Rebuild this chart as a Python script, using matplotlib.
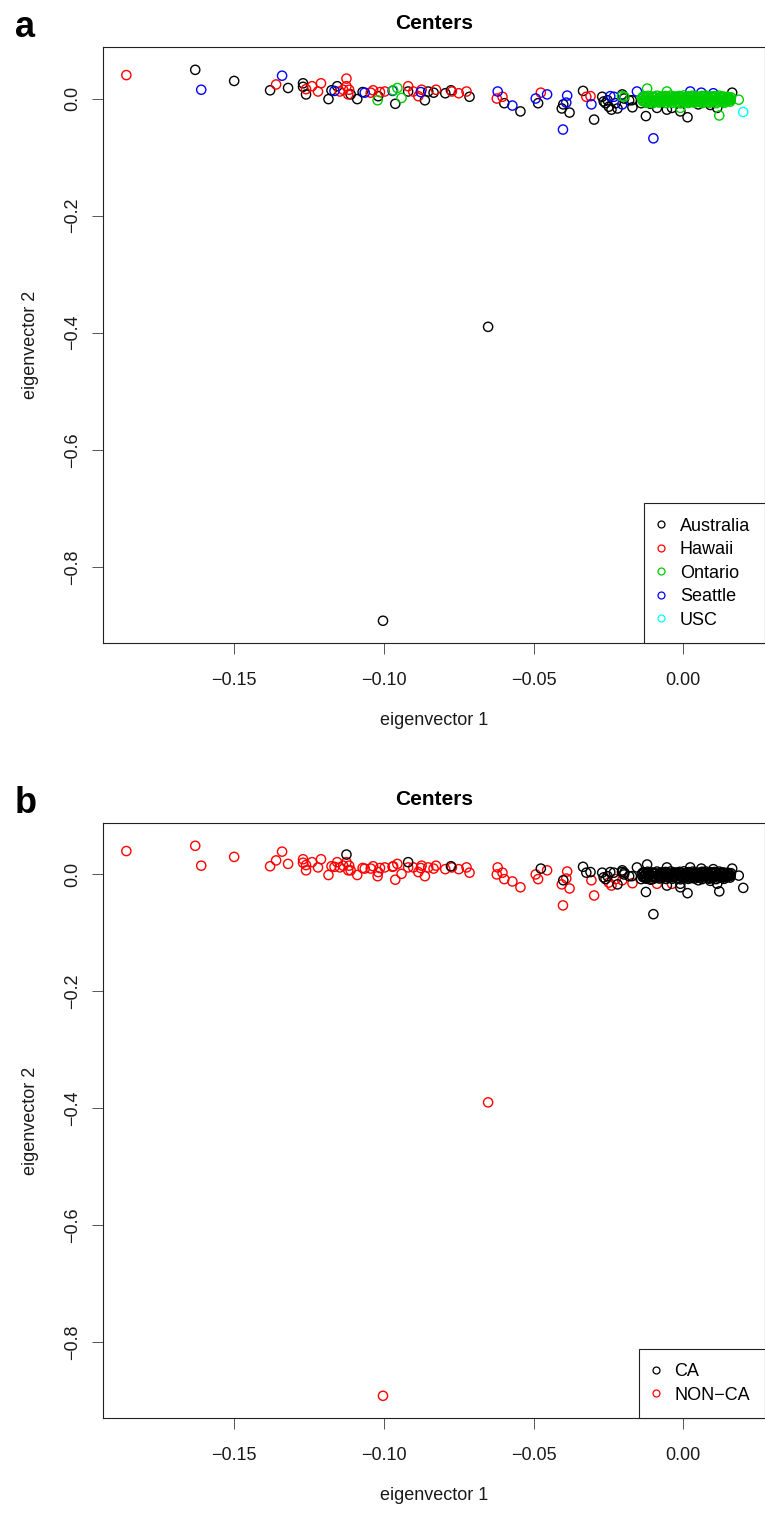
import matplotlib
matplotlib.use("Agg")
import matplotlib.pyplot as plt
from matplotlib.lines import Line2D
from matplotlib.ticker import FuncFormatter
import numpy as np

plt.rcParams['font.family'] = ['Liberation Sans', 'DejaVu Sans']

centers = ["Australia", "Hawaii", "Ontario", "Seattle", "USC"]
center_colors = {"Australia": "black", "Hawaii": "#FF0000", "Ontario": "#00CD00",
                 "Seattle": "#0000FF", "USC": "#00FFFF"}
ca_groups = ["CA", "NON-CA"]
ca_colors = {"CA": "black", "NON-CA": "#FF0000"}

# scattered samples (A/H/O/S/U = center, C/N = CA / NON-CA)
eig1 = [-0.186, -0.163, -0.161, -0.150, -0.134, -0.136, -0.138, -0.132, -0.127, -0.127,
        -0.126, -0.126, -0.124, -0.121, -0.122, -0.1185, -0.1175, -0.1165, -0.1156, -0.1125,
        -0.1125, -0.1116, -0.1119, -0.1136, -0.1147, -0.1111, -0.1089, -0.1071, -0.1064, -0.1036,
        -0.1013, -0.0997, -0.1044, -0.1021, -0.1019, -0.0969, -0.0955, -0.0941, -0.0971, -0.0962,
        -0.0919, -0.0902, -0.0885, -0.0874, -0.0919, -0.0863, -0.0852, -0.0877, -0.0826, -0.0773,
        -0.0750, -0.0724, -0.0834, -0.0795, -0.0776, -0.0714, -0.0620, -0.0623, -0.0604, -0.0598,
        -0.0571, -0.0544, -0.0493, -0.0455, -0.0476, -0.0485, -0.0388, -0.0391, -0.0401, -0.0406,
        -0.0380, -0.0402, -0.0335, -0.0324, -0.0310, -0.0307, -0.0298, -0.0232, -0.0204, -0.0271,
        -0.0266, -0.0260, -0.0253, -0.0249, -0.0240, -0.0226, -0.0220, -0.0204, -0.0198, -0.0181,
        -0.0170, -0.0172, -0.0141, -0.0125, -0.0197, -0.0205, -0.0121, -0.0244, -0.0155, -0.0100,
        0.0023, -0.0088, -0.0055, -0.0038, 0.0014, -0.0010, 0.0113, 0.0157, 0.0163, 0.0120,
        0.0185, 0.0200, -0.0010, -0.0055, -0.0652, -0.1003, -0.0110, 0.0050, 0.0090, 0.0060,
        0.0100, 0.0130]
eig2 = [0.040, 0.049, 0.015, 0.030, 0.039, 0.024, 0.014, 0.018, 0.026, 0.020,
        0.007, 0.016, 0.021, 0.026, 0.012, -0.001, 0.014, 0.013, 0.021, 0.034,
        0.021, 0.015, 0.007, 0.015, 0.012, 0.007, -0.001, 0.011, 0.010, 0.014,
        0.011, 0.012, 0.010, -0.003, 0.004, 0.014, 0.018, 0.001, 0.013, -0.009,
        0.021, 0.012, 0.004, 0.015, 0.012, -0.003, 0.012, 0.011, 0.015, 0.012,
        0.009, 0.012, 0.010, 0.009, 0.014, 0.003, 0.012, 0.000, 0.003, -0.008,
        -0.012, -0.022, 0.000, 0.007, 0.010, -0.008, 0.005, -0.007, -0.010, -0.017,
        -0.024, -0.053, 0.013, 0.003, 0.004, -0.010, -0.036, 0.003, -0.010, 0.003,
        -0.005, -0.008, -0.003, -0.014, -0.019, -0.008, -0.017, 0.007, 0.000, -0.003,
        -0.015, -0.003, -0.008, -0.030, 0.003, 0.004, 0.017, 0.004, 0.012, -0.068,
        0.012, -0.016, -0.019, -0.016, -0.032, -0.022, -0.016, -0.002, 0.010, -0.029,
        -0.002, -0.023, -0.016, 0.012, -0.390, -0.892, -0.009, -0.010, -0.011, 0.010,
        0.009, -0.004]
center_code = list("HASASHAAAA" "AHHHHAASAH" "HHHHHAAASH" "HHHOAOOOSA"
                   "HHHHAAASHH" "HHAAAASHHA" "SASSHASSAA" "ASAHHSASSA"
                   "AAAAAAAAAA" "AAAAOOOSSS" "SAAAAAAAAO" "OUOOAAAAAS"
                   "SU")
ca_code = list("NNNNNNNNNN" "NNNNNNNNNC" "NNNNNNNNNN" "NNNNNNNNNN"
               "CNNNNNNNNN" "NNNNCNNNNN" "NNNNCNNNCN" "NNCCCNNCNC"
               "CCCNNNCCCC" "NCCCCCCCCC" "CNCNCCCCCC" "CCCCNNCCCC"
               "CC")
code_names = {"A": "Australia", "H": "Hawaii", "O": "Ontario", "S": "Seattle", "U": "USC"}

# dense core of Ontario / CA samples around the origin (units of 1e-3)
core_x = [-13.2, -11.9, -10.1, -8.8, -7.0, -5.9, -4.2, -2.7, -1.3, 0.2, 1.8, 3.1, 4.6, 6.2, 7.5, 9.1, 10.4, 12.0, 13.3, 14.8, 15.9,
          -13.6, -12.3, -10.6, -9.3, -7.6, -6.6, -4.9, -3.2, -2.3, -0.9, 0.6, 2.1, 3.5, 5.0, 6.6, 8.0, 9.5, 10.9, 12.4, 13.8, 15.2,
          -13.9, -12.6, -11.0, -9.6, -8.1, -6.4, -5.0, -3.5, -2.0, -0.6, 0.9, 2.5, 3.9, 5.4, 6.9, 8.3, 9.8, 11.3, 12.7, 14.1, 15.4,
          -13.0, -11.5, -9.9, -8.5, -7.3, -5.6, -4.4, -2.9, -1.5, 0.0, 1.4, 2.9, 4.3, 5.8, 7.2, 8.7, 10.1, 11.6, 13.0, 14.5, 15.8,
          -13.3, -11.7, -10.4, -8.6, -7.4, -5.8, -4.5, -3.0, -1.2, 0.4, 1.9, 3.4, 4.8, 6.3, 7.8, 9.2, 10.7, 12.2, 13.6, 15.1,
          -13.5, -12.2, -10.7, -9.2, -7.7, -6.2, -4.8, -3.3, -1.8, -0.4, 1.1, 2.6, 4.1, 5.5, 7.0, 8.5, 9.9, 11.4, 12.9, 14.3, 15.6,
          -12.4, -10.3, -8.0, -5.7, -3.6, -1.0, 1.6, 3.8, 6.3, 8.8, 11.0, 13.6]
core_y = [3.8, 4.6, 3.1, 4.9, 3.5, 4.2, 5.1, 3.3, 4.4, 5.3, 3.9, 4.8, 3.2, 4.5, 5.0, 3.6, 4.1, 4.9, 3.4, 2.9, 2.1,
          2.6, 2.2, 3.0, 1.9, 2.8, 2.4, 2.0, 2.7, 2.3, 2.9, 2.1, 2.5, 2.8, 2.0, 2.6, 2.3, 2.9, 2.2, 2.7, 2.4, 2.0,
          0.6, 1.4, -0.2, 1.1, 0.3, 1.7, 0.0, 0.9, 1.5, -0.4, 0.8, 1.9, 0.2, 1.2, -0.1, 0.7, 1.6, 0.4, 1.0, -0.3, 0.5,
          -2.4, -1.6, -2.9, -1.9, -2.6, -1.3, -2.8, -2.1, -1.7, -3.0, -2.2, -1.5, -2.7, -2.0, -1.4, -2.5, -3.1, -1.8, -2.3, -1.6, -2.0,
          -3.5, -4.1, -3.7, -3.3, -4.2, -3.9, -3.4, -4.0, -3.6, -4.3, -3.8, -3.2, -4.1, -3.7, -3.5, -4.2, -3.9, -3.3, -4.0, -3.6,
          -4.6, -5.5, -4.9, -6.0, -5.2, -4.4, -5.8, -5.0, -6.2, -4.7, -5.4, -6.1, -4.8, -5.6, -5.1, -6.3, -4.5, -5.3, -5.9, -4.9, -5.4,
          -7.4, -8.1, -7.0, -7.8, -7.3, -8.3, -7.6, -7.1, -7.9, -7.2, -8.0, -7.5]

x_ticks = [-0.15, -0.10, -0.05, 0.00]
y_ticks = [-0.8, -0.6, -0.4, -0.2, 0.0]

x_all = np.concatenate([eig1, np.array(core_x) / 1000.0])
y_all = np.concatenate([eig2, np.array(core_y) / 1000.0])
center_all = np.array([code_names[c] for c in center_code] + ["Ontario"] * len(core_x))
ca_all = np.array(["CA" if c == "C" else "NON-CA" for c in ca_code] + ["CA"] * len(core_x))

W, H = 765, 1519
fig = plt.figure(figsize=(W / 100, H / 100), dpi=100)
ax_a = fig.add_axes([103 / W, 1 - 643 / H, 661.5 / W, 596 / H])
ax_b = fig.add_axes([103 / W, 1 - 1418 / H, 661.5 / W, 595 / H])

minus = lambda fmt: FuncFormatter(lambda v, p: (fmt % v).replace("-", "\u2212"))


def style_axes(ax):
    ax.set_xlim(-0.1938, 0.0271)
    ax.set_ylim(-0.930, 0.088)
    ax.set_xticks(x_ticks)
    ax.set_yticks(y_ticks)
    ax.xaxis.set_major_formatter(minus("%.2f"))
    ax.yaxis.set_major_formatter(minus("%.1f"))
    ax.tick_params(direction='out', length=8, width=0.7, color='#555555',
                   labelsize=13, labelcolor='#1a1a1a')
    ax.tick_params(axis='x', pad=13)
    ax.tick_params(axis='y', pad=8)
    for lab in ax.get_yticklabels():
        lab.set_rotation(90)
        lab.set_va('center')
        lab.set_ha('right')
    for s in ax.spines.values():
        s.set_linewidth(0.8)
        s.set_color('#222222')
    ax.set_xlabel("eigenvector 1", fontsize=13, color='#1a1a1a')
    ax.set_ylabel("eigenvector 2", fontsize=13, color='#1a1a1a')
    ax.xaxis.set_label_coords(0.5, -0.1153)
    ax.yaxis.set_label_coords(-0.097, 0.5)
    ax.set_title("Centers", fontsize=15, fontweight='bold', pad=13)


def add_legend(ax, labels, colors):
    handles = [Line2D([], [], ls='none', marker='o', ms=5, mfc='none', mew=0.9, mec=c)
               for c in colors]
    leg = ax.legend(handles, labels, loc='lower right', bbox_to_anchor=(1, 0),
                    borderaxespad=0, fontsize=13, handlelength=0.3, handletextpad=0.87,
                    borderpad=0.8, labelspacing=0.36, fancybox=False, framealpha=1,
                    edgecolor='#222222')
    leg.get_frame().set_linewidth(0.8)


pt = dict(s=44, facecolors='none', linewidths=1.0)

# panel a: coloured by center
for name in ["Australia", "Hawaii", "Seattle", "USC", "Ontario"]:
    m = center_all == name
    ax_a.scatter(x_all[m], y_all[m], edgecolors=center_colors[name], **pt)
style_axes(ax_a)
add_legend(ax_a, centers, [center_colors[c] for c in centers])

# panel b: CA vs NON-CA
for name in ["NON-CA", "CA"]:
    m = ca_all == name
    ax_b.scatter(x_all[m], y_all[m], edgecolors=ca_colors[name], **pt)
style_axes(ax_b)
add_legend(ax_b, ["CA", "NON\u2212CA"], [ca_colors[c] for c in ca_groups])

fig.text(15 / W, 1 - 37 / H, "a", fontsize=26, fontweight='bold', ha='left', va='baseline')
fig.text(15 / W, 1 - 813 / H, "b", fontsize=26, fontweight='bold', ha='left', va='baseline')

fig.savefig("out.png", dpi=100, facecolor='white')
